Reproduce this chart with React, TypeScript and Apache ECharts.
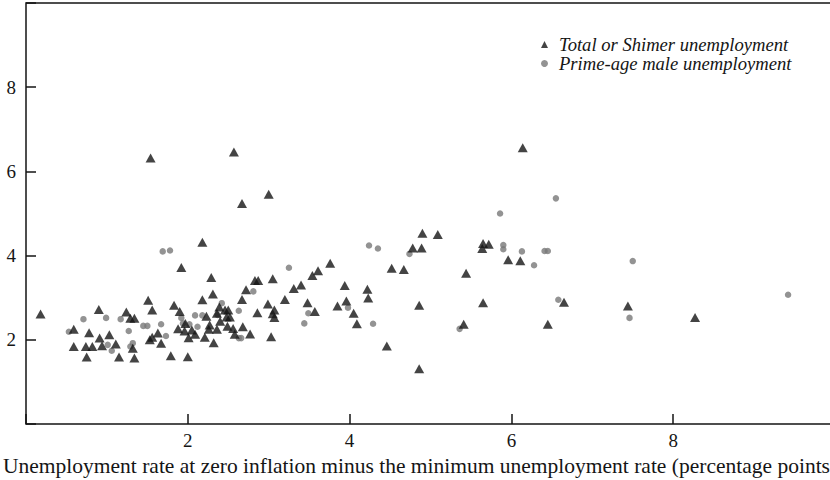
import React, { useEffect, useRef } from "react";
import * as echarts from "echarts";

const seriesNames = ["Total or Shimer unemployment", "Prime-age male unemployment"];

const xTickValues = [2, 4, 6, 8];
const yTickValues = [2, 4, 6, 8];

const totalPoints: [number, number][] = [
  [0.18, 2.61], [0.59, 2.25], [0.59, 1.84], [0.74, 1.84], [0.75, 1.59], [0.78, 2.17],
  [0.82, 1.84], [0.90, 2.72], [0.91, 2.04], [0.94, 1.86], [1.03, 2.12], [1.11, 1.90],
  [1.15, 1.59], [1.24, 2.66], [1.29, 2.51], [1.34, 2.51], [1.32, 1.80], [1.34, 1.57],
  [1.51, 2.94], [1.56, 2.71], [1.53, 2.00], [1.56, 2.06], [1.63, 2.16], [1.67, 1.92],
  [1.79, 1.62], [1.83, 2.82], [1.90, 2.67], [1.92, 3.72], [1.88, 2.26], [1.96, 2.21],
  [1.97, 2.39], [2.01, 2.05], [2.00, 1.60], [2.05, 2.23], [2.09, 2.13], [2.18, 4.32],
  [2.18, 2.95], [2.23, 2.56], [2.21, 2.06], [2.29, 3.48], [2.31, 3.09], [2.27, 2.35],
  [2.26, 2.25], [2.32, 1.93], [2.36, 2.25], [2.36, 2.63], [2.39, 2.78], [2.40, 2.44],
  [2.46, 2.71], [2.50, 2.71], [2.48, 2.54], [2.52, 2.54], [2.49, 2.32], [2.56, 2.27],
  [2.58, 2.13], [2.67, 2.96], [2.72, 3.19], [2.68, 2.31], [2.77, 2.14], [2.67, 5.24],
  [2.83, 3.41], [2.87, 3.41], [2.86, 2.64], [2.99, 2.85], [3.03, 2.07], [3.05, 3.45],
  [3.07, 2.71], [3.05, 2.62], [3.07, 2.53], [3.20, 2.96], [3.31, 3.22], [3.40, 3.30],
  [3.54, 3.53], [3.61, 3.64], [3.76, 3.82], [3.48, 2.88], [3.57, 2.67], [3.94, 3.29],
  [3.96, 2.92], [3.85, 2.80], [4.05, 2.63], [4.09, 2.38], [4.22, 3.20], [4.23, 2.99],
  [4.46, 1.85], [4.52, 3.70], [4.67, 3.67], [4.78, 4.18], [4.89, 4.18], [4.90, 4.53],
  [5.09, 4.50], [4.86, 2.82], [4.86, 1.31], [5.44, 3.58], [5.41, 2.37], [5.65, 4.29],
  [5.64, 4.17], [5.72, 4.27], [5.65, 2.88], [5.96, 3.90], [6.11, 3.88], [6.45, 2.37],
  [6.65, 2.89], [7.44, 2.80], [8.27, 2.53], [6.14, 6.56], [1.54, 6.32], [2.57, 6.46],
  [3.00, 5.46],
];

const primePoints: [number, number][] = [
  [0.53, 2.19], [0.71, 2.49], [0.99, 2.52], [1.01, 1.88], [1.06, 1.74], [1.17, 2.49],
  [1.27, 2.21], [1.29, 1.84], [1.32, 1.92], [1.45, 2.33], [1.50, 2.33], [1.67, 2.37],
  [1.73, 2.09], [1.69, 4.10], [1.78, 4.12], [1.92, 2.52], [1.94, 2.39], [2.09, 2.58],
  [2.18, 2.58], [2.02, 2.37], [2.12, 2.31], [2.42, 2.87], [2.63, 2.69], [2.81, 3.15],
  [2.63, 2.04], [2.66, 2.04], [2.37, 2.59], [3.25, 3.71], [3.44, 2.39], [3.49, 2.63],
  [3.98, 2.76], [4.24, 4.24], [4.35, 4.17], [4.74, 4.04], [4.29, 2.38], [5.36, 2.26],
  [5.86, 5.00], [5.90, 4.25], [5.90, 4.15], [6.13, 4.10], [6.28, 3.77], [6.41, 4.11],
  [6.45, 4.11], [6.55, 5.36], [6.58, 2.95], [7.46, 2.52], [7.50, 3.87], [9.42, 3.07],
];

// The reference shows the axis title cropped just before its closing parenthesis.
const xTitle =
  "Unemployment rate at zero inflation minus the minimum unemployment rate (percentage points";

const FONT = "'Liberation Serif', 'Times New Roman', serif";
const INK = "#151515";
const GREY = "#787878";

export default function App() {
  const ref = useRef<HTMLDivElement>(null);

  useEffect(() => {
    if (!ref.current) return;
    const chart = echarts.init(ref.current, undefined, { renderer: "svg" });
    chart.setOption({
      animation: false,
      backgroundColor: "#ffffff",
      grid: {
        left: 26,
        width: 809,
        top: 3,
        height: 421,
        outerBoundsMode: "none",
        containLabel: false,
        show: true,
        borderColor: INK,
        borderWidth: 1.5,
        backgroundColor: "transparent",
      },
      legend: {
        orient: "vertical",
        left: 536,
        top: 30,
        itemWidth: 7,
        itemHeight: 7,
        itemGap: 0,
        data: [
          { name: seriesNames[0], icon: "triangle", itemStyle: { color: INK } },
          { name: seriesNames[1], icon: "circle", itemStyle: { color: GREY } },
        ],
        textStyle: {
          fontFamily: FONT,
          fontStyle: "italic",
          fontSize: 18.6,
          color: INK,
          padding: [0, 0, 0, 6],
        },
      },
      xAxis: {
        type: "value",
        min: 0,
        max: 10,
        interval: 2,
        splitLine: { show: false },
        axisLine: { show: false },
        axisTick: { show: true, inside: true, length: 10, lineStyle: { color: INK, width: 1.5 } },
        axisLabel: {
          fontFamily: FONT,
          fontSize: 19,
          color: INK,
          margin: 7,
          formatter: (v: number) => (xTickValues.includes(v) ? String(v) : ""),
        },
        name: xTitle,
        nameLocation: "middle",
        nameGap: 23,
        nameTextStyle: {
          fontFamily: FONT,
          fontSize: 21.5,
          color: INK,
          padding: [0, 28, 0, 0],
        },
      },
      yAxis: {
        type: "value",
        min: 0,
        max: 10,
        interval: 2,
        splitLine: { show: false },
        axisLine: { show: false },
        axisTick: { show: true, inside: true, length: 10, lineStyle: { color: INK, width: 1.5 } },
        axisLabel: {
          fontFamily: FONT,
          fontSize: 19,
          color: INK,
          margin: 10,
          formatter: (v: number) => (yTickValues.includes(v) ? String(v) : ""),
        },
      },
      series: [
        {
          name: seriesNames[0],
          type: "scatter",
          symbol: "triangle",
          symbolSize: [10, 9],
          itemStyle: { color: INK },
          data: totalPoints,
          z: 3,
        },
        {
          name: seriesNames[1],
          type: "scatter",
          symbol: "circle",
          symbolSize: 6.5,
          itemStyle: { color: GREY },
          data: primePoints,
          z: 2,
        },
      ],
    });
    return () => chart.dispose();
  }, []);

  return (
    <div
      ref={ref}
      style={{ position: "fixed", left: 0, top: 0, width: 830, height: 480, background: "#fff" }}
    />
  );
}
